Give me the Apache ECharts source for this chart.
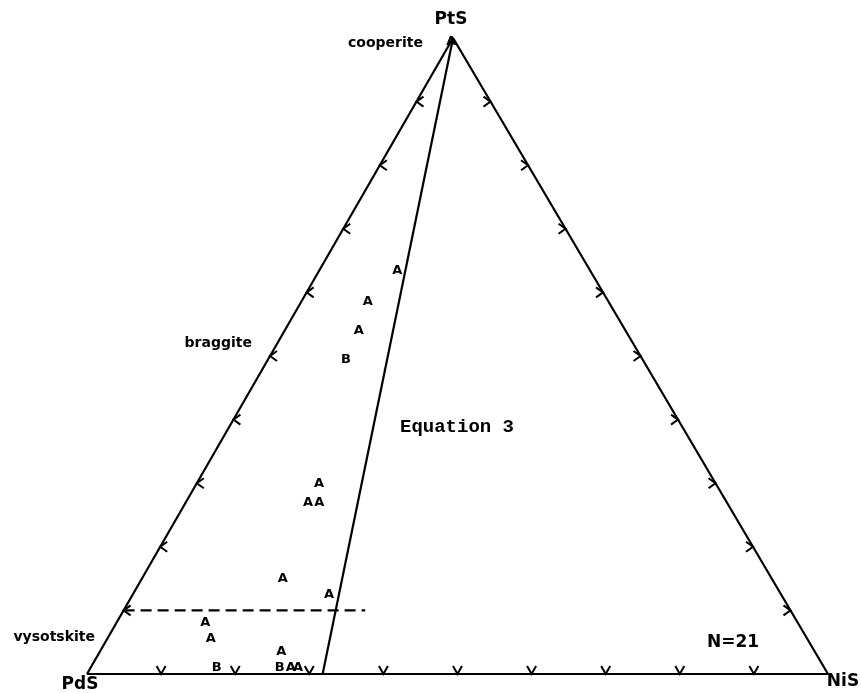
<!DOCTYPE html>
<html>
<head>
<meta charset="utf-8">
<script src="https://cdn.jsdelivr.net/npm/echarts@6/dist/echarts.min.js"></script>
<style>
  html, body { margin: 0; padding: 0; background: #fff; }
  #chart { width: 861px; height: 693px; }
</style>
</head>
<body>
<div id="chart"></div>
<script>
// Sulfide compositions (mole fractions) of the analysed PGM grains
const phaseLabels = ['A', 'A', 'A', 'A', 'B', 'A', 'A', 'A', 'A', 'A', 'A', 'A', 'A', 'B', 'B', 'A', 'A'];
const pdsValues   = [0.005, 0.26, 0.325, 0.36, 0.40, 0.535, 0.565, 0.55, 0.66, 0.61, 0.80, 0.805, 0.72, 0.82, 0.735, 0.72, 0.71];
const ptsValues   = [0.995, 0.635, 0.585, 0.54, 0.495, 0.30, 0.27, 0.27, 0.15, 0.125, 0.08, 0.055, 0.035, 0.01, 0.01, 0.01, 0.01];
const nisValues   = [0.0, 0.105, 0.09, 0.10, 0.105, 0.165, 0.165, 0.18, 0.19, 0.265, 0.12, 0.14, 0.245, 0.17, 0.255, 0.27, 0.28];

// Vertices and reference lines, as [PdS, PtS, NiS]
const vertices = [[1, 0, 0], [0, 0, 1], [0, 1, 0]];
const equation3Line = [[0, 1, 0], [0.682, 0, 0.318]];
const vysotskiteLine = [[0.9, 0.1, 0], [0.574, 0.1, 0.326]];
const tickSteps = [0.1, 0.2, 0.3, 0.4, 0.5, 0.6, 0.7, 0.8, 0.9];

// Horizontal position of the PtS apex on the 0..1 x scale
const APEX_X = 0.494;

// Ternary composition -> plane coordinates on the cartesian value axes
function toPlane(c) {
  const s = c[0] + c[1] + c[2];
  const pt = c[1] / s, ni = c[2] / s;
  return [ni + pt * APEX_X, pt];
}

const outline = [vertices[0], vertices[1], vertices[2], vertices[0]].map(toPlane);

// Edge ticks: bottom edge (PdS-NiS), left edge (PdS-PtS), right edge (NiS-PtS)
const ticks = [];
tickSteps.forEach(t => {
  ticks.push(toPlane([1 - t, 0, t]).concat([0]));
  ticks.push(toPlane([1 - t, t, 0]).concat([1]));
  ticks.push(toPlane([0, t, 1 - t]).concat([2]));
});

const points = phaseLabels.map((lab, i) =>
  toPlane([pdsValues[i], ptsValues[i], nisValues[i]]).concat([lab]));

const labelFont = 'bold 14px "DejaVu Sans"';
const vertexFont = 'bold 17px "DejaVu Sans"';

const chart = echarts.init(document.getElementById('chart'));
chart.setOption({
  animation: false,
  backgroundColor: '#fff',
  grid: { left: 87, top: 38, width: 741, height: 636 },
  xAxis: { type: 'value', min: 0, max: 1, show: false },
  yAxis: { type: 'value', min: 0, max: 1, show: false },
  graphic: [
    { type: 'text', x: 451, y: 20, style: { text: 'PtS', font: vertexFont, fill: '#000', align: 'center', verticalAlign: 'middle' } },
    { type: 'text', x: 80, y: 685, style: { text: 'PdS', font: vertexFont, fill: '#000', align: 'center', verticalAlign: 'middle' } },
    { type: 'text', x: 843, y: 682, style: { text: 'NiS', font: vertexFont, fill: '#000', align: 'center', verticalAlign: 'middle' } },
    { type: 'text', x: 423, y: 43, style: { text: 'cooperite', font: labelFont, fill: '#000', align: 'right', verticalAlign: 'middle' } },
    { type: 'text', x: 252, y: 343, style: { text: 'braggite', font: labelFont, fill: '#000', align: 'right', verticalAlign: 'middle' } },
    { type: 'text', x: 95, y: 637, style: { text: 'vysotskite', font: labelFont, fill: '#000', align: 'right', verticalAlign: 'middle' } },
    { type: 'text', x: 707, y: 643, style: { text: 'N=21', font: 'bold 17px "DejaVu Sans"', fill: '#000', align: 'left', verticalAlign: 'middle' } },
    { type: 'text', x: 400, y: 427, style: { text: 'Equation 3', font: 'bold 19px "Liberation Mono"', fill: '#000', align: 'left', verticalAlign: 'middle' } }
  ],
  series: [
    {
      name: 'outline', type: 'line', data: outline, symbol: 'none', silent: true,
      lineStyle: { color: '#000', width: 2.2 }
    },
    {
      name: 'Equation 3', type: 'line', data: equation3Line.map(toPlane), symbol: 'none', silent: true,
      lineStyle: { color: '#000', width: 2.2 }
    },
    {
      name: 'vysotskite', type: 'line', data: vysotskiteLine.map(toPlane), symbol: 'none', silent: true,
      lineStyle: { color: '#000', width: 2.2, type: [11, 6] }
    },
    {
      name: 'ticks', type: 'custom', data: ticks, silent: true, clip: false,
      renderItem: function (params, api) {
        const p = api.coord([api.value(0), api.value(1)]);
        const side = api.value(2);
        let pts;
        if (side === 0) pts = [[p[0] - 4.5, p[1] - 8], p, [p[0] + 4.5, p[1] - 8]];
        else if (side === 1) pts = [[p[0] + 7, p[1] - 5], p, [p[0] + 7, p[1] + 5]];
        else pts = [[p[0] - 7, p[1] - 5], p, [p[0] - 7, p[1] + 5]];
        return { type: 'polyline', shape: { points: pts }, style: { stroke: '#000', lineWidth: 2, fill: null } };
      }
    },
    {
      name: 'grains', type: 'custom', data: points, silent: true, clip: false,
      encode: { x: 0, y: 1 },
      renderItem: function (params, api) {
        const p = api.coord([api.value(0), api.value(1)]);
        return {
          type: 'text', x: p[0], y: p[1],
          style: { text: points[params.dataIndex][2], font: 'bold 13px "DejaVu Sans"', fill: '#000', align: 'center', verticalAlign: 'middle' }
        };
      }
    }
  ]
});
</script>
</body>
</html>
